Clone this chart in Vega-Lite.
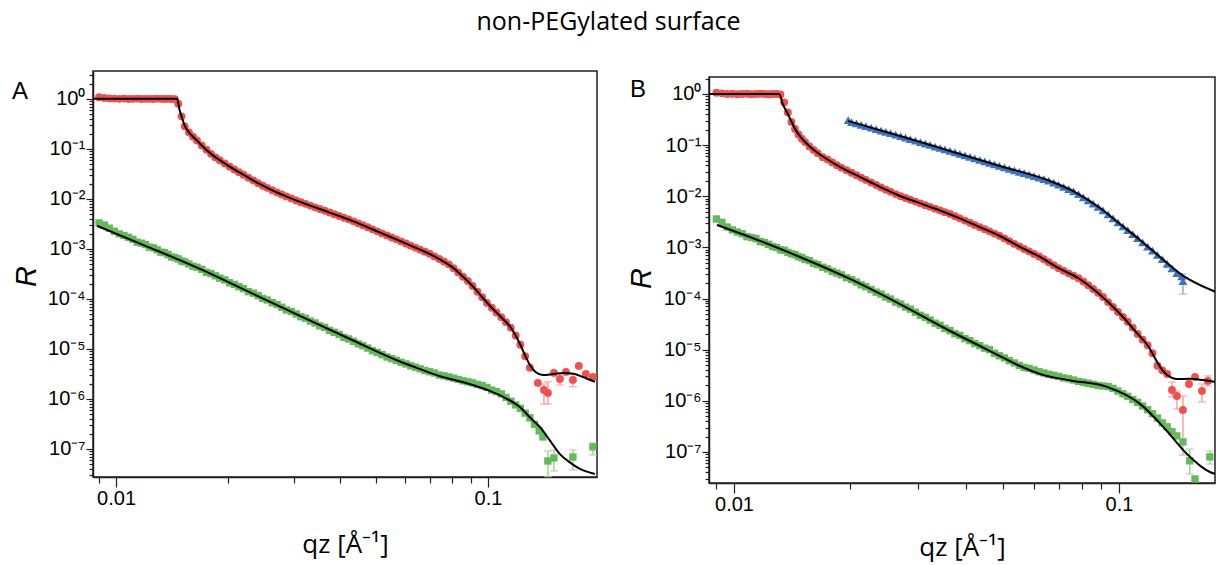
{
"$schema": "https://vega.github.io/schema/vega-lite/v6.json",
"padding": {"left": 11, "top": 10, "right": 0, "bottom": 8},
"background": "white",
"title": {"text": "non-PEGylated surface", "font": "Open Sans", "fontSize": 25, "fontWeight": "normal", "color": "#000", "anchor": "middle", "dx": -5, "offset": 9, "baseline": "alphabetic"},
"bounds": "flush",
"spacing": 112,
"datasets": {
"aRed": [
{"q":0.0090,"R":1.08},{"q":0.0093,"R":1.04},{"q":0.0096,"R":1.02},{"q":0.0099,"R":1.01},{"q":0.0102,"R":1.0},{"q":0.0105,"R":1.01},{"q":0.0108,"R":0.99},{"q":0.0111,"R":1.0},{"q":0.0114,"R":1.01},{"q":0.0117,"R":0.99},{"q":0.0120,"R":1.0},{"q":0.0123,"R":1.0},{"q":0.0126,"R":0.99},{"q":0.0129,"R":1.01},{"q":0.0132,"R":1.0},{"q":0.0135,"R":0.99},{"q":0.0138,"R":1.0},{"q":0.0141,"R":0.99},{"q":0.0144,"R":0.98},{"q":0.0147,"R":0.8},{"q":0.0150,"R":0.447},{"q":0.0153,"R":0.282},{"q":0.0157,"R":0.214},{"q":0.0161,"R":0.175},{"q":0.0165,"R":0.147},{"q":0.0170,"R":0.117},{"q":0.0175,"R":0.0962},{"q":0.0180,"R":0.0794},{"q":0.0185,"R":0.0675},{"q":0.0190,"R":0.0593},{"q":0.0196,"R":0.0509},{"q":0.0202,"R":0.044},{"q":0.0208,"R":0.0387},{"q":0.0214,"R":0.0342},{"q":0.0220,"R":0.0303},{"q":0.0227,"R":0.0265},{"q":0.0234,"R":0.0233},{"q":0.0241,"R":0.0206},{"q":0.0248,"R":0.0183},{"q":0.0255,"R":0.0166},{"q":0.0263,"R":0.0149},{"q":0.0271,"R":0.0134},{"q":0.0279,"R":0.0122},{"q":0.0287,"R":0.0112},{"q":0.0296,"R":0.0102},{"q":0.0305,"R":0.0093},{"q":0.0314,"R":0.00857},{"q":0.0323,"R":0.00794},{"q":0.0333,"R":0.00733},{"q":0.0343,"R":0.00677},{"q":0.0353,"R":0.00627},{"q":0.0364,"R":0.00577},{"q":0.0375,"R":0.00533},{"q":0.0386,"R":0.00493},{"q":0.0398,"R":0.00455},{"q":0.0410,"R":0.0042},{"q":0.0422,"R":0.00389},{"q":0.0435,"R":0.00355},{"q":0.0448,"R":0.00324},{"q":0.0461,"R":0.00296},{"q":0.0475,"R":0.0027},{"q":0.0489,"R":0.00246},{"q":0.0504,"R":0.00224},{"q":0.0519,"R":0.00204},{"q":0.0535,"R":0.00186},{"q":0.0551,"R":0.00169},{"q":0.0567,"R":0.00155},{"q":0.0584,"R":0.00141},{"q":0.0602,"R":0.00128},{"q":0.0620,"R":0.00116},{"q":0.0638,"R":0.00106},{"q":0.0657,"R":0.000966},{"q":0.0677,"R":0.000877},{"q":0.0697,"R":0.0008},{"q":0.0718,"R":0.000708},{"q":0.0740,"R":0.000626},{"q":0.0762,"R":0.000555},{"q":0.0785,"R":0.000491},{"q":0.0808,"R":0.000412},{"q":0.0832,"R":0.000339},{"q":0.0857,"R":0.000278},{"q":0.0883,"R":0.000228},{"q":0.0909,"R":0.000181},{"q":0.0937,"R":0.000139},{"q":0.0965,"R":0.000108},{"q":0.0994,"R":8.32e-5},{"q":0.1024,"R":6.65e-5},{"q":0.1054,"R":5.36e-5},{"q":0.1086,"R":4.29e-5},{"q":0.1118,"R":3.43e-5},{"q":0.1152,"R":2.66e-5},{"q":0.1187,"R":1.85e-5},{"q":0.1222,"R":1.21e-5},{"q":0.1259,"R":7.14e-6},{"q":0.1296,"R":4.2e-6},
{"q":0.1362,"R":2.09e-6},{"q":0.1414,"R":1.51e-6,"lo":7.94e-7,"hi":2.0e-6},{"q":0.1449,"R":1.32e-6,"lo":7.94e-7,"hi":2.2e-6},{"q":0.1504,"R":3.31e-6},{"q":0.1561,"R":2.51e-6,"lo":1.9e-6,"hi":3.2e-6},{"q":0.1621,"R":3.47e-6},{"q":0.1692,"R":2.4e-6,"lo":1.75e-6,"hi":3.1e-6},{"q":0.1755,"R":4.57e-6},{"q":0.1833,"R":3.16e-6},{"q":0.1915,"R":2.75e-6}
],
"aGreen": [
{"q":0.0090,"R":3.3e-3},{"q":0.0093,"R":3.0e-3},{"q":0.0096,"R":2.6e-3},{"q":0.0099,"R":2.25e-3},{"q":0.0102,"R":2.0e-3},{"q":0.0105,"R":1.85e-3},{"q":0.0108,"R":1.7e-3},{"q":0.0111,"R":1.55e-3},{"q":0.0114,"R":1.36e-3},{"q":0.0117,"R":1.3e-3},{"q":0.0120,"R":1.22e-3},{"q":0.0123,"R":1.08e-3},{"q":0.0126,"R":1.05e-3},{"q":0.0129,"R":9.6e-4},{"q":0.0132,"R":8.6e-4},{"q":0.0135,"R":8.4e-4},{"q":0.0138,"R":7.7e-4},{"q":0.0141,"R":6.9e-4},{"q":0.0144,"R":6.7e-4},{"q":0.0147,"R":6.3e-4},{"q":0.0150,"R":5.7e-4},{"q":0.0153,"R":5.5e-4},{"q":0.0157,"R":5.0e-4},{"q":0.0161,"R":4.5e-4},{"q":0.0165,"R":4.3e-4},{"q":0.0170,"R":3.9e-4},{"q":0.0175,"R":3.4e-4},{"q":0.0180,"R":3.2e-4},{"q":0.0185,"R":2.9e-4},{"q":0.0190,"R":2.6e-4},{"q":0.0196,"R":2.4e-4},{"q":0.0202,"R":2.1e-4},{"q":0.0208,"R":1.95e-4},{"q":0.0214,"R":1.75e-4},{"q":0.0220,"R":1.6e-4},{"q":0.0227,"R":1.4e-4},{"q":0.0234,"R":1.3e-4},{"q":0.0241,"R":1.16e-4},{"q":0.0248,"R":1.02e-4},{"q":0.0255,"R":9.5e-5},{"q":0.0263,"R":8.4e-5},{"q":0.0271,"R":7.7e-5},{"q":0.0279,"R":6.8e-5},{"q":0.0287,"R":6.0e-5},{"q":0.0296,"R":5.6e-5},{"q":0.0305,"R":5.0e-5},{"q":0.0314,"R":4.4e-5},{"q":0.0323,"R":4.1e-5},{"q":0.0333,"R":3.6e-5},{"q":0.0343,"R":3.3e-5},{"q":0.0353,"R":2.9e-5},{"q":0.0364,"R":2.7e-5},{"q":0.0375,"R":2.35e-5},{"q":0.0386,"R":2.15e-5},{"q":0.0398,"R":1.95e-5},{"q":0.0410,"R":1.7e-5},{"q":0.0422,"R":1.58e-5},{"q":0.0435,"R":1.42e-5},{"q":0.0448,"R":1.26e-5},{"q":0.0461,"R":1.16e-5},{"q":0.0475,"R":1.04e-5},{"q":0.0489,"R":9.2e-6},{"q":0.0504,"R":8.5e-6},{"q":0.0519,"R":7.7e-6},{"q":0.0535,"R":6.9e-6},{"q":0.0551,"R":6.4e-6},{"q":0.0567,"R":5.9e-6},{"q":0.0584,"R":5.4e-6},{"q":0.0602,"R":5.0e-6},{"q":0.0620,"R":4.6e-6},{"q":0.0638,"R":4.3e-6},{"q":0.0657,"R":4.0e-6},{"q":0.0677,"R":3.7e-6},{"q":0.0697,"R":3.5e-6},{"q":0.0718,"R":3.3e-6},{"q":0.0740,"R":3.0e-6},{"q":0.0762,"R":2.9e-6},{"q":0.0785,"R":2.75e-6},{"q":0.0808,"R":2.6e-6},{"q":0.0832,"R":2.45e-6},{"q":0.0857,"R":2.3e-6},{"q":0.0883,"R":2.2e-6},{"q":0.0909,"R":2.1e-6},{"q":0.0937,"R":1.95e-6},{"q":0.0965,"R":1.85e-6},{"q":0.0994,"R":1.7e-6},{"q":0.1024,"R":1.5e-6},{"q":0.1054,"R":1.4e-6},{"q":0.1086,"R":1.26e-6},{"q":0.1118,"R":1.07e-6},{"q":0.1152,"R":9.0e-7},{"q":0.1187,"R":7.6e-7},{"q":0.1222,"R":6.5e-7},{"q":0.1259,"R":5.2e-7},{"q":0.1296,"R":4.2e-7},{"q":0.1334,"R":3.1e-7},{"q":0.1373,"R":2.3e-7},{"q":0.1405,"R":1.74e-7},
{"q":0.1449,"R":5.75e-8,"lo":2.8e-8,"hi":9.1e-8},{"q":0.1504,"R":6.6e-8,"lo":3.63e-8,"hi":9.55e-8},{"q":0.1692,"R":6.9e-8,"lo":3.8e-8,"hi":9.55e-8},{"q":0.1915,"R":1.1e-7,"lo":7.6e-8,"hi":1.32e-7}
],
"aFitRed": [
{"q":0.0087,"R":1},{"q":0.0146,"R":1},{"q":0.0148,"R":0.62},{"q":0.015,"R":0.447},{"q":0.0153,"R":0.29},{"q":0.0157,"R":0.214},{"q":0.0161,"R":0.175},{"q":0.0165,"R":0.147},{"q":0.017,"R":0.117},{"q":0.018,"R":0.0794},{"q":0.019,"R":0.0593},{"q":0.0202,"R":0.044},{"q":0.0214,"R":0.0342},{"q":0.0227,"R":0.0265},{"q":0.0241,"R":0.0206},{"q":0.0255,"R":0.0166},{"q":0.0271,"R":0.0134},{"q":0.0287,"R":0.0112},{"q":0.0305,"R":0.0093},{"q":0.0333,"R":0.00733},{"q":0.0364,"R":0.00577},{"q":0.0398,"R":0.00455},{"q":0.0435,"R":0.00355},{"q":0.0475,"R":0.0027},{"q":0.0519,"R":0.00204},{"q":0.0567,"R":0.00155},{"q":0.062,"R":0.00116},{"q":0.0677,"R":0.000877},{"q":0.074,"R":0.000626},{"q":0.0808,"R":0.000412},{"q":0.0857,"R":0.000278},{"q":0.0909,"R":0.000181},{"q":0.0965,"R":0.000108},{"q":0.1024,"R":6.65e-5},{"q":0.1086,"R":4.29e-5},{"q":0.1152,"R":2.66e-5},{"q":0.1187,"R":1.85e-5},{"q":0.1222,"R":1.21e-5},{"q":0.1259,"R":7.4e-6},{"q":0.1296,"R":4.8e-6},{"q":0.134,"R":3.5e-6},{"q":0.1405,"R":3.0e-6},{"q":0.15,"R":3.15e-6},{"q":0.16,"R":3.3e-6},{"q":0.17,"R":3.2e-6},{"q":0.18,"R":2.75e-6},{"q":0.1938,"R":2.2e-6}
],
"aFitGreen": [
{"q":0.00889,"R":2.88e-3},{"q":0.012,"R":1.15e-3},{"q":0.01681,"R":3.98e-4},{"q":0.023,"R":1.33e-4},{"q":0.03122,"R":4.57e-5},{"q":0.04255,"R":1.58e-5},{"q":0.05798,"R":5.6e-6},{"q":0.066,"R":3.9e-6},{"q":0.07428,"R":2.85e-6},{"q":0.087,"R":2.1e-6},{"q":0.1011,"R":1.45e-6},{"q":0.112,"R":1.02e-6},{"q":0.1218,"R":6.9e-7},{"q":0.13,"R":4.2e-7},{"q":0.1379,"R":2.75e-7},{"q":0.147,"R":1.45e-7},{"q":0.1561,"R":7.9e-8},{"q":0.166,"R":5.4e-8},{"q":0.1767,"R":3.98e-8},{"q":0.1938,"R":3.16e-8}
],
"bRed": [
{"q":0.0090,"R":1.06},{"q":0.0093,"R":1.03},{"q":0.0096,"R":1.0},{"q":0.0099,"R":1.01},{"q":0.0102,"R":0.99},{"q":0.0105,"R":1.0},{"q":0.0108,"R":1.01},{"q":0.0111,"R":0.99},{"q":0.0114,"R":1.0},{"q":0.0117,"R":1.01},{"q":0.0120,"R":1.0},{"q":0.0123,"R":0.99},{"q":0.0126,"R":1.0},{"q":0.0129,"R":1.0},{"q":0.0132,"R":0.98},{"q":0.0135,"R":0.687},{"q":0.0138,"R":0.434},{"q":0.0141,"R":0.285},{"q":0.0144,"R":0.207},{"q":0.0147,"R":0.161},{"q":0.0150,"R":0.133},{"q":0.0153,"R":0.1146},{"q":0.0157,"R":0.0944},{"q":0.0161,"R":0.0807},{"q":0.0165,"R":0.0697},{"q":0.0170,"R":0.0582},{"q":0.0175,"R":0.0524},{"q":0.0180,"R":0.046},{"q":0.0185,"R":0.0406},{"q":0.0190,"R":0.0363},{"q":0.0196,"R":0.0323},{"q":0.0202,"R":0.0288},{"q":0.0208,"R":0.0258},{"q":0.0214,"R":0.0232},{"q":0.0220,"R":0.0209},{"q":0.0227,"R":0.0186},{"q":0.0234,"R":0.0166},{"q":0.0241,"R":0.01486},{"q":0.0248,"R":0.01346},{"q":0.0255,"R":0.01227},{"q":0.0263,"R":0.01104},{"q":0.0271,"R":0.01},{"q":0.0279,"R":0.00925},{"q":0.0287,"R":0.00857},{"q":0.0296,"R":0.00787},{"q":0.0305,"R":0.00726},{"q":0.0314,"R":0.00671},{"q":0.0323,"R":0.00621},{"q":0.0333,"R":0.00573},{"q":0.0343,"R":0.00528},{"q":0.0353,"R":0.00489},{"q":0.0364,"R":0.0045},{"q":0.0375,"R":0.00407},{"q":0.0386,"R":0.0037},{"q":0.0398,"R":0.00334},{"q":0.0410,"R":0.00303},{"q":0.0422,"R":0.00275},{"q":0.0435,"R":0.00249},{"q":0.0448,"R":0.00226},{"q":0.0461,"R":0.00206},{"q":0.0475,"R":0.00186},{"q":0.0489,"R":0.00169},{"q":0.0504,"R":0.0015},{"q":0.0519,"R":0.00133},{"q":0.0535,"R":0.00117},{"q":0.0551,"R":0.00104},{"q":0.0567,"R":0.000929},{"q":0.0584,"R":0.000832},{"q":0.0602,"R":0.000741},{"q":0.0620,"R":0.000664},{"q":0.0638,"R":0.000586},{"q":0.0657,"R":0.000513},{"q":0.0677,"R":0.000448},{"q":0.0697,"R":0.000393},{"q":0.0718,"R":0.000349},{"q":0.0740,"R":0.000311},{"q":0.0762,"R":0.000279},{"q":0.0785,"R":0.000249},{"q":0.0808,"R":0.000215},{"q":0.0832,"R":0.000182},{"q":0.0857,"R":0.000154},{"q":0.0883,"R":0.00013},{"q":0.0909,"R":0.000107},{"q":0.0937,"R":8.53e-5},{"q":0.0965,"R":6.83e-5},{"q":0.0994,"R":5.46e-5},{"q":0.1024,"R":4.36e-5},{"q":0.1054,"R":3.52e-5},{"q":0.1086,"R":2.7e-5},{"q":0.1118,"R":2.03e-5},{"q":0.1152,"R":1.57e-5},{"q":0.1187,"R":1.22e-5},{"q":0.1222,"R":8.53e-6},{"q":0.1259,"R":4.85e-6},{"q":0.1296,"R":3.94e-6},{"q":0.1334,"R":3.35e-6},
{"q":0.1373,"R":1.63e-6,"lo":1.19e-6,"hi":2.33e-6},{"q":0.1414,"R":1.24e-6,"lo":6.9e-7,"hi":1.56e-6},{"q":0.1466,"R":6.6e-7,"lo":8.7e-8,"hi":1.24e-6},{"q":0.152,"R":2.13e-6},{"q":0.1576,"R":2.92e-6},{"q":0.1643,"R":1.56e-6,"lo":9.5e-7,"hi":2.13e-6},{"q":0.1702,"R":2.44e-6,"lo":1.95e-6,"hi":3.06e-6}
],
"bGreen": [
{"q":0.0090,"R":3.6e-3},{"q":0.0093,"R":3.1e-3},{"q":0.0096,"R":2.5e-3},{"q":0.0099,"R":2.2e-3},{"q":0.0102,"R":2.0e-3},{"q":0.0105,"R":1.85e-3},{"q":0.0108,"R":1.62e-3},{"q":0.0111,"R":1.56e-3},{"q":0.0114,"R":1.48e-3},{"q":0.0117,"R":1.3e-3},{"q":0.0120,"R":1.25e-3},{"q":0.0123,"R":1.15e-3},{"q":0.0126,"R":1.04e-3},{"q":0.0129,"R":1.0e-3},{"q":0.0132,"R":9.0e-4},{"q":0.0135,"R":8.8e-4},{"q":0.0138,"R":8.0e-4},{"q":0.0141,"R":7.5e-4},{"q":0.0144,"R":7.2e-4},{"q":0.0147,"R":6.6e-4},{"q":0.0150,"R":6.3e-4},{"q":0.0153,"R":5.8e-4},{"q":0.0157,"R":5.5e-4},{"q":0.0161,"R":4.9e-4},{"q":0.0165,"R":4.6e-4},{"q":0.0170,"R":4.1e-4},{"q":0.0175,"R":3.8e-4},{"q":0.0180,"R":3.4e-4},{"q":0.0185,"R":3.15e-4},{"q":0.0190,"R":2.9e-4},{"q":0.0196,"R":2.55e-4},{"q":0.0202,"R":2.35e-4},{"q":0.0208,"R":2.1e-4},{"q":0.0214,"R":1.85e-4},{"q":0.0220,"R":1.7e-4},{"q":0.0227,"R":1.5e-4},{"q":0.0234,"R":1.33e-4},{"q":0.0241,"R":1.22e-4},{"q":0.0248,"R":1.07e-4},{"q":0.0255,"R":9.8e-5},{"q":0.0263,"R":8.5e-5},{"q":0.0271,"R":7.8e-5},{"q":0.0279,"R":6.8e-5},{"q":0.0287,"R":6.2e-5},{"q":0.0296,"R":5.4e-5},{"q":0.0305,"R":4.7e-5},{"q":0.0314,"R":4.3e-5},{"q":0.0323,"R":3.8e-5},{"q":0.0333,"R":3.3e-5},{"q":0.0343,"R":3.0e-5},{"q":0.0353,"R":2.6e-5},{"q":0.0364,"R":2.35e-5},{"q":0.0375,"R":2.05e-5},{"q":0.0386,"R":1.9e-5},{"q":0.0398,"R":1.65e-5},{"q":0.0410,"R":1.5e-5},{"q":0.0422,"R":1.32e-5},{"q":0.0435,"R":1.2e-5},{"q":0.0448,"R":1.07e-5},{"q":0.0461,"R":1.0e-5},{"q":0.0475,"R":8.5e-6},{"q":0.0489,"R":7.6e-6},{"q":0.0504,"R":6.9e-6},{"q":0.0519,"R":6.1e-6},{"q":0.0535,"R":5.5e-6},{"q":0.0551,"R":4.9e-6},{"q":0.0567,"R":4.5e-6},{"q":0.0584,"R":4.3e-6},{"q":0.0602,"R":4.0e-6},{"q":0.0620,"R":3.7e-6},{"q":0.0638,"R":3.5e-6},{"q":0.0657,"R":3.3e-6},{"q":0.0677,"R":3.15e-6},{"q":0.0697,"R":3.0e-6},{"q":0.0718,"R":2.8e-6},{"q":0.0740,"R":2.7e-6},{"q":0.0762,"R":2.55e-6},{"q":0.0785,"R":2.4e-6},{"q":0.0808,"R":2.3e-6},{"q":0.0832,"R":2.2e-6},{"q":0.0857,"R":2.1e-6},{"q":0.0883,"R":2.0e-6},{"q":0.0909,"R":1.95e-6},{"q":0.0937,"R":1.9e-6},{"q":0.0965,"R":1.75e-6},{"q":0.0994,"R":1.55e-6},{"q":0.1024,"R":1.37e-6},{"q":0.1054,"R":1.22e-6},{"q":0.1086,"R":1.06e-6},{"q":0.1118,"R":9.3e-7},{"q":0.1152,"R":7.9e-7},{"q":0.1187,"R":6.7e-7},{"q":0.1222,"R":5.6e-7},{"q":0.1259,"R":4.6e-7},{"q":0.1296,"R":3.7e-7},{"q":0.1334,"R":3.1e-7},{"q":0.1373,"R":2.5e-7},{"q":0.1414,"R":2.06e-7},{"q":0.1466,"R":1.57e-7},
{"q":0.1527,"R":6.7e-8,"lo":3.7e-8,"hi":1.14e-7},{"q":0.1576,"R":2.96e-8},{"q":0.1722,"R":8.0e-8,"lo":5.8e-8,"hi":1.04e-7}
],
"bBlue": [
{"q":0.0198,"R":0.31},{"q":0.0202,"R":0.283},{"q":0.0208,"R":0.265},{"q":0.0214,"R":0.25},{"q":0.0220,"R":0.235},{"q":0.0227,"R":0.22},{"q":0.0234,"R":0.206},{"q":0.0241,"R":0.193},{"q":0.0248,"R":0.1815},{"q":0.0255,"R":0.171},{"q":0.0263,"R":0.16},{"q":0.0271,"R":0.1496},{"q":0.0279,"R":0.14},{"q":0.0287,"R":0.1315},{"q":0.0296,"R":0.1225},{"q":0.0305,"R":0.1145},{"q":0.0314,"R":0.1074},{"q":0.0323,"R":0.1007},{"q":0.0333,"R":0.094},{"q":0.0343,"R":0.0879},{"q":0.0353,"R":0.0824},{"q":0.0364,"R":0.0769},{"q":0.0375,"R":0.0719},{"q":0.0386,"R":0.0673},{"q":0.0398,"R":0.0628},{"q":0.0410,"R":0.0587},{"q":0.0422,"R":0.055},{"q":0.0435,"R":0.0514},{"q":0.0448,"R":0.0481},{"q":0.0461,"R":0.0451},{"q":0.0475,"R":0.0421},{"q":0.0489,"R":0.0394},{"q":0.0504,"R":0.0368},{"q":0.0519,"R":0.0344},{"q":0.0535,"R":0.0321},{"q":0.0551,"R":0.0301},{"q":0.0567,"R":0.0282},{"q":0.0584,"R":0.0264},{"q":0.0602,"R":0.0247},{"q":0.0620,"R":0.0231},{"q":0.0638,"R":0.0216},{"q":0.0657,"R":0.0202},{"q":0.0677,"R":0.0185},{"q":0.0697,"R":0.0168},{"q":0.0718,"R":0.0152},{"q":0.0740,"R":0.01377},{"q":0.0762,"R":0.01248},{"q":0.0785,"R":0.01096},{"q":0.0808,"R":0.00953},{"q":0.0832,"R":0.00828},{"q":0.0857,"R":0.00718},{"q":0.0883,"R":0.00621},{"q":0.0909,"R":0.00528},{"q":0.0937,"R":0.00441},{"q":0.0965,"R":0.00369},{"q":0.0994,"R":0.00308},{"q":0.1024,"R":0.00258},{"q":0.1054,"R":0.00217},{"q":0.1086,"R":0.00181},{"q":0.1118,"R":0.00152},{"q":0.1152,"R":0.00126},{"q":0.1187,"R":0.00104},{"q":0.1222,"R":0.000865},{"q":0.1259,"R":0.000714},{"q":0.1296,"R":0.000587},{"q":0.1334,"R":0.000476},{"q":0.1373,"R":0.000387},{"q":0.1413,"R":0.000314},{"q":0.1455,"R":0.00027},{"q":0.1466,"R":0.00022,"lo":0.000123,"hi":0.0003}
],
"bFitRed": [
{"q":0.0086,"R":1},{"q":0.0131,"R":1},{"q":0.0134,"R":0.62},{"q":0.0137,"R":0.45},{"q":0.0141,"R":0.29},{"q":0.0144,"R":0.21},{"q":0.015,"R":0.135},{"q":0.0157,"R":0.095},{"q":0.0165,"R":0.07},{"q":0.0175,"R":0.0524},{"q":0.019,"R":0.0363},{"q":0.0208,"R":0.0258},{"q":0.0227,"R":0.0186},{"q":0.0248,"R":0.01346},{"q":0.0271,"R":0.01},{"q":0.0305,"R":0.00726},{"q":0.0343,"R":0.00528},{"q":0.0386,"R":0.0037},{"q":0.0435,"R":0.00249},{"q":0.0489,"R":0.00169},{"q":0.0551,"R":0.00104},{"q":0.062,"R":0.000664},{"q":0.0697,"R":0.000393},{"q":0.0785,"R":0.000249},{"q":0.0857,"R":0.000154},{"q":0.0937,"R":8.53e-5},{"q":0.1024,"R":4.36e-5},{"q":0.1118,"R":2.03e-5},{"q":0.1187,"R":1.22e-5},{"q":0.1259,"R":5.6e-6},{"q":0.1301,"R":3.84e-6},{"q":0.136,"R":2.9e-6},{"q":0.1414,"R":2.67e-6},{"q":0.1527,"R":2.7e-6},{"q":0.165,"R":2.55e-6},{"q":0.1786,"R":2.33e-6}
],
"bFitGreen": [
{"q":0.00903,"R":2.75e-3},{"q":0.01168,"R":1.34e-3},{"q":0.01483,"R":6.5e-4},{"q":0.02001,"R":2.42e-4},{"q":0.02698,"R":7.8e-5},{"q":0.0364,"R":2.32e-5},{"q":0.04355,"R":1.18e-5},{"q":0.04908,"R":7.5e-6},{"q":0.05532,"R":4.8e-6},{"q":0.06235,"R":3.35e-6},{"q":0.075,"R":2.5e-6},{"q":0.0931,"R":1.87e-6},{"q":0.1134,"R":8.7e-7},{"q":0.1332,"R":2.57e-7},{"q":0.1502,"R":9.1e-8},{"q":0.1722,"R":4.06e-8},{"q":0.1786,"R":3.7e-8}
],
"bFitBlue": [
{"q":0.0198,"R":0.296},{"q":0.027,"R":0.151},{"q":0.0364,"R":0.0769},{"q":0.0491,"R":0.0391},{"q":0.0662,"R":0.0199},{"q":0.0769,"R":0.0121},{"q":0.0893,"R":0.0059},{"q":0.1006,"R":0.00287},{"q":0.1134,"R":0.0014},{"q":0.1278,"R":0.00065},{"q":0.1466,"R":0.00028},{"q":0.1786,"R":0.000134}
]
},
"hconcat": [
{
"width": 504, "height": 406,
"title": {"text": "A", "anchor": "start", "frame": "group", "orient": "top", "offset": -28, "dx": -81, "dy": 30, "baseline": "alphabetic", "fontSize": 24, "fontWeight": "normal", "font": "Liberation Sans", "color": "#000"},
"encoding": {
"x": {"field": "q", "type": "quantitative", "scale": {"type": "log", "domain": [0.00867, 0.1964], "nice": false},
 "axis": {"values": [0.009,0.01,0.02,0.03,0.04,0.05,0.06,0.07,0.08,0.09,0.1],
  "labelExpr": "abs(datum.value-0.01)<1e-9 ? '0.01' : (abs(datum.value-0.1)<1e-9 ? '0.1' : '')",
  "tickSize": {"condition": {"test": "abs(datum.value-0.01)<1e-9 || abs(datum.value-0.1)<1e-9", "value": 10}, "value": 6},
  "labelPadding": 1, "title": "qz [Å⁻¹]", "titleFont": "Open Sans", "titleFontSize": 26, "titleY": 75, "titleBaseline": "alphabetic"}},
"y": {"field": "R", "type": "quantitative", "scale": {"type": "log", "domain": [2.75e-8, 3.6], "nice": false},
 "axis": {"values": [3e-8,4e-8,5e-8,6e-8,7e-8,8e-8,9e-8,1e-7,2e-7,3e-7,4e-7,5e-7,6e-7,7e-7,8e-7,9e-7,1e-6,2e-6,3e-6,4e-6,5e-6,6e-6,7e-6,8e-6,9e-6,1e-5,2e-5,3e-5,4e-5,5e-5,6e-5,7e-5,8e-5,9e-5,1e-4,2e-4,3e-4,4e-4,5e-4,6e-4,7e-4,8e-4,9e-4,0.001,0.002,0.003,0.004,0.005,0.006,0.007,0.008,0.009,0.01,0.02,0.03,0.04,0.05,0.06,0.07,0.08,0.09,0.1,0.2,0.3,0.4,0.5,0.6,0.7,0.8,0.9,1,2,3],
  "labelExpr": "abs(log(datum.value)/LN10-round(log(datum.value)/LN10))<0.001 ? '10'+(round(log(datum.value)/LN10)<0?'⁻':'')+['⁰','¹','²','³','⁴','⁵','⁶','⁷','⁸','⁹'][abs(round(log(datum.value)/LN10))] : ''",
  "tickSize": {"condition": {"test": "abs(log(datum.value)/LN10-round(log(datum.value)/LN10))<0.001", "value": 7}, "value": 4},
  "labelPadding": 1, "title": "R", "titleFont": "Liberation Sans", "titleFontStyle": "italic", "titleFontSize": 29, "titleX": -58, "titleY": 205, "titleAngle": -90, "titleBaseline": "alphabetic", "titleAlign": "center"}}
},
"layer": [
{"data": {"name": "aRed"}, "transform": [{"filter": "isValid(datum.lo)"}], "mark": {"type": "errorbar", "color": "#F4A3A3", "thickness": 1.5, "ticks": true, "size": 8},
 "encoding": {"y": {"field": "lo", "type": "quantitative", "scale": {"type": "log", "domain": [2.75e-8, 3.6], "nice": false}}, "y2": {"field": "hi"}}},
{"data": {"name": "aGreen"}, "transform": [{"filter": "isValid(datum.lo)"}], "mark": {"type": "errorbar", "color": "#A3D49A", "thickness": 1.5, "ticks": true, "size": 8},
 "encoding": {"y": {"field": "lo", "type": "quantitative", "scale": {"type": "log", "domain": [2.75e-8, 3.6], "nice": false}}, "y2": {"field": "hi"}}},
{"data": {"name": "aRed"}, "mark": {"type": "point", "shape": "circle", "filled": true, "size": 62, "color": "#F0504F", "opacity": 1}},
{"data": {"name": "aGreen"}, "mark": {"type": "point", "shape": "square", "filled": true, "size": 54, "color": "#64B95A", "opacity": 1}},
{"data": {"name": "aFitRed"}, "mark": {"type": "line", "color": "#000", "strokeWidth": 2, "clip": true, "interpolate": "monotone"}},
{"data": {"name": "aFitGreen"}, "mark": {"type": "line", "color": "#000", "strokeWidth": 2, "clip": true, "interpolate": "monotone"}}
]
},
{
"bounds": "flush",
"spacing": 5,
"vconcat": [
{"width": 506, "height": 1, "data": {"values": []}, "mark": "point", "view": {"stroke": null}},
{
"width": 506, "height": 406,
"title": {"text": "B", "anchor": "start", "frame": "group", "orient": "top", "offset": -28, "dx": -79, "dy": 24, "baseline": "alphabetic", "fontSize": 24, "fontWeight": "normal", "font": "Liberation Sans", "color": "#000"},
"encoding": {
"x": {"field": "q", "type": "quantitative", "scale": {"type": "log", "domain": [0.00861, 0.1776], "nice": false},
 "axis": {"values": [0.009,0.01,0.02,0.03,0.04,0.05,0.06,0.07,0.08,0.09,0.1],
  "labelExpr": "abs(datum.value-0.01)<1e-9 ? '0.01' : (abs(datum.value-0.1)<1e-9 ? '0.1' : '')",
  "tickSize": {"condition": {"test": "abs(datum.value-0.01)<1e-9 || abs(datum.value-0.1)<1e-9", "value": 10}, "value": 6},
  "labelPadding": 1, "title": "qz [Å⁻¹]", "titleFont": "Open Sans", "titleFontSize": 26, "titleY": 72, "titleBaseline": "alphabetic"}},
"y": {"field": "R", "type": "quantitative", "scale": {"type": "log", "domain": [2.47e-8, 2.15], "nice": false},
 "axis": {"values": [3e-8,4e-8,5e-8,6e-8,7e-8,8e-8,9e-8,1e-7,2e-7,3e-7,4e-7,5e-7,6e-7,7e-7,8e-7,9e-7,1e-6,2e-6,3e-6,4e-6,5e-6,6e-6,7e-6,8e-6,9e-6,1e-5,2e-5,3e-5,4e-5,5e-5,6e-5,7e-5,8e-5,9e-5,1e-4,2e-4,3e-4,4e-4,5e-4,6e-4,7e-4,8e-4,9e-4,0.001,0.002,0.003,0.004,0.005,0.006,0.007,0.008,0.009,0.01,0.02,0.03,0.04,0.05,0.06,0.07,0.08,0.09,0.1,0.2,0.3,0.4,0.5,0.6,0.7,0.8,0.9,1,2],
  "labelExpr": "abs(log(datum.value)/LN10-round(log(datum.value)/LN10))<0.001 ? '10'+(round(log(datum.value)/LN10)<0?'⁻':'')+['⁰','¹','²','³','⁴','⁵','⁶','⁷','⁸','⁹'][abs(round(log(datum.value)/LN10))] : ''",
  "tickSize": {"condition": {"test": "abs(log(datum.value)/LN10-round(log(datum.value)/LN10))<0.001", "value": 7}, "value": 4},
  "labelPadding": 1, "title": "R", "titleFont": "Liberation Sans", "titleFontStyle": "italic", "titleFontSize": 29, "titleX": -59, "titleY": 201, "titleAngle": -90, "titleBaseline": "alphabetic", "titleAlign": "center"}}
},
"layer": [
{"data": {"name": "bRed"}, "transform": [{"filter": "isValid(datum.lo)"}], "mark": {"type": "errorbar", "color": "#F4A3A3", "thickness": 1.5, "ticks": true, "size": 8},
 "encoding": {"y": {"field": "lo", "type": "quantitative", "scale": {"type": "log", "domain": [2.47e-8, 2.15], "nice": false}}, "y2": {"field": "hi"}}},
{"data": {"name": "bGreen"}, "transform": [{"filter": "isValid(datum.lo)"}], "mark": {"type": "errorbar", "color": "#A3D49A", "thickness": 1.5, "ticks": true, "size": 8},
 "encoding": {"y": {"field": "lo", "type": "quantitative", "scale": {"type": "log", "domain": [2.47e-8, 2.15], "nice": false}}, "y2": {"field": "hi"}}},
{"data": {"name": "bBlue"}, "transform": [{"filter": "isValid(datum.lo)"}], "mark": {"type": "errorbar", "color": "#8FB0DD", "thickness": 1.5, "ticks": true, "size": 8},
 "encoding": {"y": {"field": "lo", "type": "quantitative", "scale": {"type": "log", "domain": [2.47e-8, 2.15], "nice": false}}, "y2": {"field": "hi"}}},
{"data": {"name": "bRed"}, "mark": {"type": "point", "shape": "circle", "filled": true, "size": 62, "color": "#F0504F", "opacity": 1, "clip": true}},
{"data": {"name": "bGreen"}, "mark": {"type": "point", "shape": "square", "filled": true, "size": 54, "color": "#64B95A", "opacity": 1, "clip": true}},
{"data": {"name": "bBlue"}, "mark": {"type": "point", "shape": "triangle-up", "filled": true, "size": 80, "color": "#3C73BE", "opacity": 1, "clip": true}},
{"data": {"name": "bFitRed"}, "mark": {"type": "line", "color": "#000", "strokeWidth": 2, "clip": true, "interpolate": "monotone"}},
{"data": {"name": "bFitGreen"}, "mark": {"type": "line", "color": "#000", "strokeWidth": 2, "clip": true, "interpolate": "monotone"}},
{"data": {"name": "bFitBlue"}, "mark": {"type": "line", "color": "#000", "strokeWidth": 2, "clip": true, "interpolate": "monotone"}}
]
}
]
}
],
"config": {
"font": "Liberation Sans",
"view": {"stroke": "#231f20", "strokeWidth": 1.5},
"axis": {"domainColor": "#231f20", "domainWidth": 1.5, "tickColor": "#231f20", "tickWidth": 1.2, "labelFont": "Liberation Sans", "labelFontSize": 20, "labelColor": "#000", "labelOverlap": false, "labelFlush": false, "grid": false, "titleColor": "#000", "titleFontWeight": "normal"}
}
}
